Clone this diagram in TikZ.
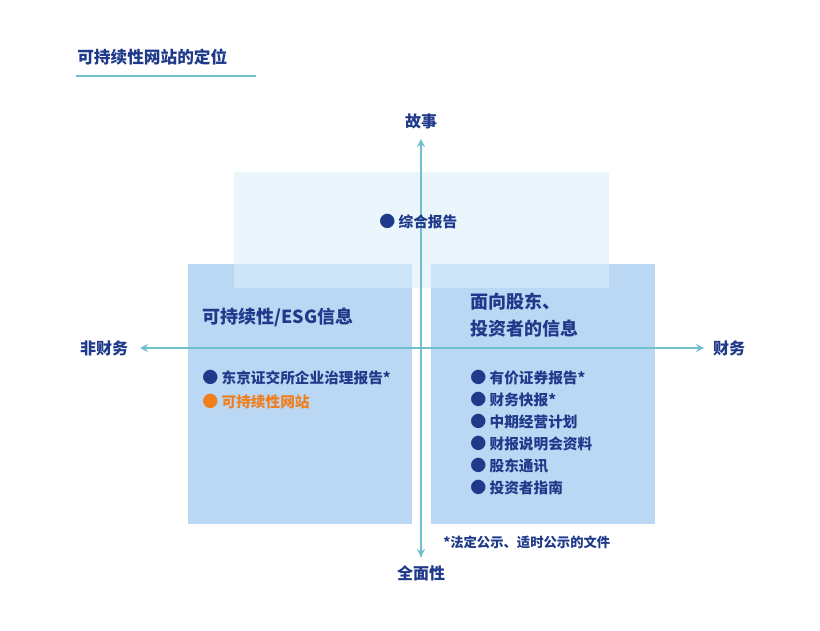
\documentclass[tikz,border=0pt]{standalone}
\usepackage{fontspec}
\setmainfont{Noto Sans CJK SC}
\usetikzlibrary{arrows.meta}
\definecolor{navy}{HTML}{1F3A8A}
\definecolor{axis}{HTML}{6FBFCC}
\definecolor{boxb}{HTML}{BAD7F3}
\definecolor{boxt}{HTML}{DCEFFA}
\definecolor{orng}{HTML}{F07E1A}
\tikzset{
  lbl/.style={text=navy,font=\bfseries\fontsize{11}{13}\selectfont,anchor=west,inner sep=0pt},
  axl/.style={text=navy,font=\bfseries\fontsize{12}{14}\selectfont,inner sep=0pt},
  head/.style={text=navy,font=\bfseries\fontsize{13.5}{20}\selectfont,anchor=west,inner sep=0pt,align=left},
  ax/.style={draw=axis,line width=1.3pt,-{Stealth[length=6pt,width=6pt]}}
}
\newcommand{\bul}{\textcolor{navy}{\large●}\ }
\begin{document}
\begin{tikzpicture}[x=0.75pt,y=-0.75pt]
\useasboundingbox (0,0) rectangle (820,631);
\fill[white] (0,0) rectangle (820,631);
\node[text=navy,font=\bfseries\fontsize{12.5}{15}\selectfont,anchor=west,inner sep=0pt] (title) at (77,57) {可持续性网站的定位};
\draw[axis,line width=1pt] (76,76) -- (256,76);
\fill[boxb] (188,264) rectangle (412,524);
\fill[boxb] (431,264) rectangle (655,524);
\fill[boxt,fill opacity=0.6] (234,172) rectangle (609,288);
\coordinate (top) at (421,139); \coordinate (bot) at (421,557);
\coordinate (lft) at (140,348); \coordinate (rgt) at (704,348);
\draw[ax] (bot) -- (top);
\draw[ax] (421,348) -- (bot);
\draw[ax] (421,348) -- (lft);
\draw[ax] (421,348) -- (rgt);
\node[axl] (story) at (421,121) {故事};
\node[axl] (comp) at (421,573) {全面性};
\node[axl] (nonfin) at (104,348) {非财务};
\node[axl] (fin) at (729,348) {财务};
\node[lbl] (ir) at (379,222) {\bul 综合报告};
\node[head] (h1) at (202,317) {可持续性/ESG信息};
\node[head] (h2) at (470,315) {面向股东、\\投资者的信息};
\node[lbl] (l1) at (202,378) {\bul 东京证交所企业治理报告*};
\node[lbl,text=orng] (l2) at (202,402) {\textcolor{orng}{\large●}\ 可持续性网站};
\foreach \t [count=\i] in {有价证券报告*,财务快报*,中期经营计划,财报说明会资料,股东通讯,投资者指南}
  \node[lbl] (r\i) at (470,356+22*\i) {\bul \t};
\node[lbl,font=\bfseries\fontsize{10}{12}\selectfont] (fn) at (443,542) {*法定公示、适时公示的文件};
\end{tikzpicture}
\end{document}
